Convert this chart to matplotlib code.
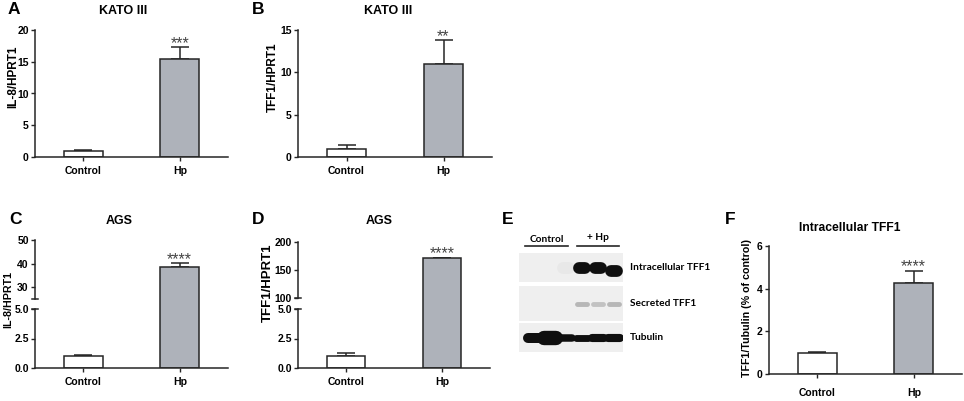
import numpy as np
import matplotlib
matplotlib.use('Agg')
import matplotlib.pyplot as plt
from matplotlib.patches import Rectangle
import matplotlib.transforms as mtransforms

plt.rcParams['font.family'] = 'Liberation Sans'
plt.rcParams['font.weight'] = 'bold'

groups = ['Control', 'Hp']

# A - KATO III, IL-8/HPRT1
a_mean = [1.0, 15.5]
a_err = [0.1, 1.8]
# B - KATO III, TFF1/HPRT1
b_mean = [1.0, 11.0]
b_err = [0.4, 2.8]
# C - AGS, IL-8/HPRT1 (broken axis)
c_mean = [1.0, 38.5]
c_err = [0.1, 1.7]
# D - AGS, TFF1/HPRT1 (broken axis)
d_mean = [1.0, 171.0]
d_err = [0.3, 1.0]
# F - intracellular TFF1 / tubulin
f_mean = [1.0, 4.27]
f_err = [0.05, 0.57]

# E - western blot, band strength per lane (3 control, 3 Hp)
blot_rows = ['Intracellular TFF1', 'Secreted TFF1', 'Tubulin']
intra_band = [0.0, 0.0, 0.03, 1.0, 1.0, 1.0]
secreted_band = [0.0, 0.0, 0.0, 0.25, 0.2, 0.25]
tubulin_band = [0.8, 1.15, 0.6, 0.55, 0.65, 0.65]

W, H = 964, 401
HP_COL = '#aeb2ba'
EDGE = '#262626'

fig = plt.figure(figsize=(W / 100, H / 100), dpi=100)


def px_axes(x0, x1, ytop, ybot):
    # place axes using pixel box of the reference
    return fig.add_axes([x0 / W, 1 - ybot / H, (x1 - x0) / W, (ybot - ytop) / H])


def style(ax, xaxis=True, xpad=3.5):
    ax.spines['top'].set_visible(False)
    ax.spines['right'].set_visible(False)
    ax.spines['left'].set_linewidth(1.1)
    ax.spines['left'].set_color(EDGE)
    ax.tick_params(axis='y', length=3, width=1, labelsize=7.5, pad=1.5, color=EDGE)
    ax.set_xlim(-0.5, 1.5)
    if xaxis:
        ax.spines['bottom'].set_linewidth(1.1)
        ax.spines['bottom'].set_color(EDGE)
        ax.set_xticks([0, 1])
        ax.set_xticklabels(groups)
        ax.tick_params(axis='x', length=3, width=1, labelsize=7.5, pad=xpad, color=EDGE)
    else:
        ax.spines['bottom'].set_visible(False)
        ax.set_xticks([])


def bars(ax, mean, err):
    x = np.arange(len(mean))
    ax.bar(x, mean, width=0.4, color=['white', HP_COL], edgecolor=EDGE, linewidth=1.1, zorder=2)
    ax.errorbar(x, mean, yerr=[[0] * len(err), err], fmt='none', ecolor=EDGE,
                elinewidth=1.1, capsize=6.5, capthick=1.1, zorder=1)


def stars(ax, mean, err, s):
    ax.annotate(s, xy=(1, mean[1] + err[1]), xytext=(0, -0.5), textcoords='offset points',
                ha='center', va='baseline', fontsize=11.5, fontweight='normal', color='#444',
                annotation_clip=False)


def break_mark(ax, y):
    tr = mtransforms.blended_transform_factory(ax.transAxes, ax.transData)
    ax.plot([-0.015, 0.015], [y, y], transform=tr, color=EDGE, lw=1.1, clip_on=False)


# ---- A ----
ax = px_axes(35, 228, 30, 157)
bars(ax, a_mean, a_err)
ax.set_ylim(0, 20)
ax.set_yticks([0, 5, 10, 15, 20])
style(ax)
stars(ax, a_mean, a_err, '***')

# ---- B ----
bx = px_axes(298, 492, 30, 157)
bars(bx, b_mean, b_err)
bx.set_ylim(0, 15)
bx.set_yticks([0, 5, 10, 15])
style(bx)
stars(bx, b_mean, b_err, '**')

# ---- C (broken) ----
cx_top = px_axes(35, 228, 240, 309)
bars(cx_top, c_mean, c_err)
cx_top.set_ylim(50 - 69 / 2.36, 50)
cx_top.set_yticks([30, 40, 50])
style(cx_top, xaxis=False)
cx_top.spines['left'].set_bounds(25, 50)
break_mark(cx_top, 25)
stars(cx_top, c_mean, c_err, '****')

cx = px_axes(35, 228, 309, 368)
bars(cx, c_mean, c_err)
cx.set_ylim(0, 5)
cx.set_yticks([0, 2.5, 5])
cx.set_yticklabels(['0.0', '2.5', '5.0'])
style(cx)
break_mark(cx, 5)

# ---- D (broken) ----
dx_top = px_axes(298, 490, 242, 309)
bars(dx_top, d_mean, d_err)
dx_top.set_ylim(200 - 67 / 0.56, 200)
dx_top.set_yticks([100, 150, 200])
style(dx_top, xaxis=False)
dx_top.spines['left'].set_bounds(100, 200)
break_mark(dx_top, 100)
stars(dx_top, d_mean, d_err, '****')

dx = px_axes(298, 490, 309, 368)
bars(dx, d_mean, d_err)
dx.set_ylim(0, 5)
dx.set_yticks([0, 2.5, 5])
dx.set_yticklabels(['0.0', '2.5', '5.0'])
style(dx)
break_mark(dx, 5)

# ---- F ----
fx = px_axes(769, 962, 246, 374)
bars(fx, f_mean, f_err)
fx.set_ylim(0, 6)
fx.set_yticks([0, 2, 4, 6])
style(fx, xpad=7)
stars(fx, f_mean, f_err, '****')

# ---- E (blot) ----
ex = px_axes(519, 623, 253, 352)
ex.set_xlim(-15 / 16, 5 + 9 / 16)
ex.set_ylim(352, 253)
ex.axis('off')
row_box = [(253, 282), (286, 321), (323, 352)]
for (t, b) in row_box:
    ex.add_patch(Rectangle((-15 / 16, t), 6.5, b - t, facecolor='#efefef', edgecolor='none'))
lanes = np.arange(6)
yc = [(t + b) / 2 for t, b in row_box]


def grey(v):
    # blend from the membrane background towards black
    g = 0.937 * (1 - v) + 0.06 * v
    return (g, g, g)


for i in lanes:
    v = intra_band[i]
    dy = 3 if i == 5 else 0
    if v > 0:
        ex.plot([i - 0.2, i + 0.2], [yc[0] + dy, yc[0] + dy], lw=8.5, color=grey(v),
                solid_capstyle='round')
    v = secreted_band[i]
    if v > 0:
        ex.plot([i - 0.3, i + 0.3], [yc[1], yc[1]], lw=3.5, color=grey(v),
                solid_capstyle='round')
    v = tubulin_band[i]
    ex.plot([i - 0.35, i + 0.35], [yc[2], yc[2]], lw=9 * v, color=grey(1.0),
            solid_capstyle='round')
for name, y in zip(blot_rows, yc):
    ex.text(5 + 9 / 16 + 7 / 16, y, name, ha='left', va='center', fontsize=7.3,
            family='Lato', fontweight='bold')
ex.plot([-0.56, 2.1], [246, 246], color=EDGE, lw=1.2, clip_on=False)
ex.plot([2.7, 5.3], [246, 246], color=EDGE, lw=1.2, clip_on=False)
ex.text(0.8, 239, 'Control', ha='center', va='center', fontsize=7.3, family='Lato',
        fontweight='bold')
ex.text(4.0, 238, '+ Hp', ha='center', va='center', fontsize=7.3, family='Lato',
        fontweight='bold')

# ---- titles, labels, panel letters ----
def ftext(x, y, s, **kw):
    fig.text(x / W, 1 - y / H, s, ha='center', va='center', **kw)

ftext(123, 11, 'KATO III', fontsize=9)
ftext(388, 11, 'KATO III', fontsize=9)
ftext(119, 221, 'AGS', fontsize=9)
ftext(379, 221, 'AGS', fontsize=9)
ftext(850, 228, 'Intracellular TFF1', fontsize=8.7)

ftext(13, 77, 'IL-8/HPRT1', fontsize=8.5, rotation=90)
ftext(273, 77, 'TFF1/HPRT1', fontsize=8.5, rotation=90)
ftext(8, 300, 'IL-8/HPRT1', fontsize=7.7, rotation=90)
ftext(268, 283, 'TFF1/HPRT1', fontsize=9.5, rotation=90)
ftext(747, 308, 'TFF1/Tubulin (% of control)', fontsize=7.7, rotation=90)

for s, x, y in [('A', 14, 10), ('B', 258, 10), ('C', 15, 220), ('D', 258, 220),
                ('E', 508, 220), ('F', 730, 220)]:
    ftext(x, y, s, fontsize=12.5)

fig.savefig('out.png', dpi=100)
